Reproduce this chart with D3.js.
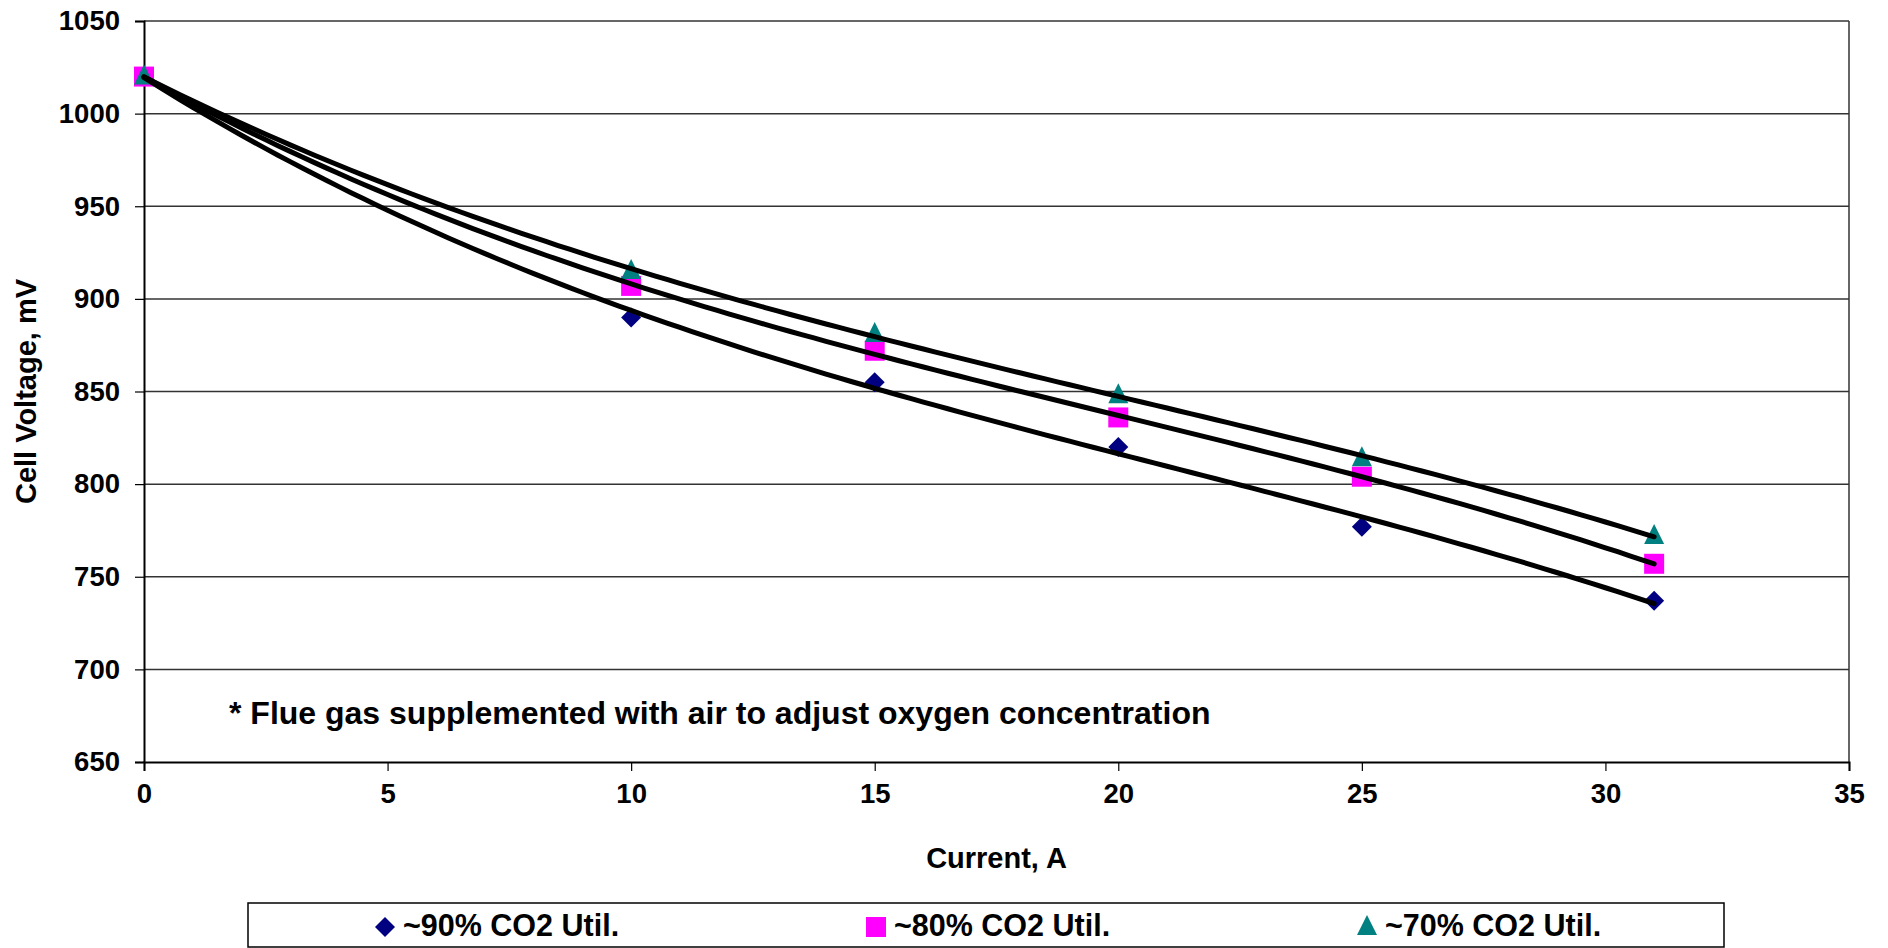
<!DOCTYPE html>
<meta charset="utf-8">
<script src="https://d3js.org/d3.v7.min.js"></script>
<style>
  body { margin: 0; background: #fff; }
  text { font-family: "Liberation Sans", Arial, sans-serif; font-weight: bold; fill: #000; }
</style>
<div id="chart"></div>
<script>
// data
var current = [0, 10, 15, 20, 25, 31];
var util90 = [1020, 890, 855, 820, 777, 737];
var util80 = [1020, 907, 872, 836, 804, 757];
var util70 = [1020, 915, 881, 848, 814, 772];
var seriesNames = ["~90% CO2 Util.", "~80% CO2 Util.", "~70% CO2 Util."];
var xTicks = [0, 5, 10, 15, 20, 25, 30, 35];
var yTicks = [650, 700, 750, 800, 850, 900, 950, 1000, 1050];

var width = 1888, height = 948;
var pL = 144, pR = 1849, pT = 21, pB = 762;

var svg = d3.select("#chart").append("svg").attr("width", width).attr("height", height);

var x = d3.scaleLinear().domain([0, 35]).range([pL, pR]);
var y = d3.scaleLinear().domain([650, 1050]).range([pB, pT]);

// gridlines
svg.append("g").selectAll("line").data(yTicks.slice(1)).enter().append("line")
  .attr("x1", pL).attr("x2", pR)
  .attr("y1", function(d){ return y(d) }).attr("y2", function(d){ return y(d) })
  .attr("stroke", "#333").attr("stroke-width", 1.5);
// right border
svg.append("line").attr("x1", pR).attr("x2", pR).attr("y1", pT).attr("y2", pB)
  .attr("stroke", "#333").attr("stroke-width", 1.5);

// axes
var yAxis = svg.append("g").attr("transform", "translate(" + pL + ",0)")
  .call(d3.axisLeft(y).tickValues(yTicks).tickSize(9).tickPadding(15).tickFormat(d3.format("d")));
var xAxis = svg.append("g").attr("transform", "translate(0," + pB + ")")
  .call(d3.axisBottom(x).tickValues(xTicks).tickSize(9).tickPadding(22));
[xAxis, yAxis].forEach(function(a){
  a.select(".domain").attr("stroke", "#000").attr("stroke-width", 2);
  a.selectAll(".tick line").attr("stroke", "#000").attr("stroke-width", 1.2);
  a.selectAll("text").style("font-size", "27.5px").style("font-family", null).attr("fill", "#000");
});
xAxis.selectAll("text").attr("dy", "0.35em");

// cubic least squares fit (trendline)
function polyFit(xs, ys, order) {
  var n = order + 1, A = [], i, j, k;
  for (i = 0; i < n; i++) {
    A.push([]);
    for (j = 0; j <= n; j++) A[i].push(0);
  }
  xs.forEach(function(xv, p){
    for (i = 0; i < n; i++) {
      for (j = 0; j < n; j++) A[i][j] += Math.pow(xv, i + j);
      A[i][n] += ys[p] * Math.pow(xv, i);
    }
  });
  for (i = 0; i < n; i++) {
    var piv = i;
    for (k = i + 1; k < n; k++) if (Math.abs(A[k][i]) > Math.abs(A[piv][i])) piv = k;
    var t = A[i]; A[i] = A[piv]; A[piv] = t;
    for (k = i + 1; k < n; k++) {
      var f = A[k][i] / A[i][i];
      for (j = i; j <= n; j++) A[k][j] -= f * A[i][j];
    }
  }
  var c = new Array(n);
  for (i = n - 1; i >= 0; i--) {
    var s = A[i][n];
    for (j = i + 1; j < n; j++) s -= A[i][j] * c[j];
    c[i] = s / A[i][i];
  }
  return function(xv){ return c.reduce(function(a, ci, ii){ return a + ci * Math.pow(xv, ii) }, 0) };
}

var series = [
  { name: seriesNames[0], values: util90, color: "#000080", shape: "diamond" },
  { name: seriesNames[1], values: util80, color: "#FF00FF", shape: "square" },
  { name: seriesNames[2], values: util70, color: "#008080", shape: "triangle" }
];

function shapePath(s) {
  if (s.shape === "diamond") return "M0,-10L10,0L0,10L-10,0Z";
  if (s.shape === "square") return "M-10,-10H10V10H-10Z";
  return "M0,-12L10,8L-10,8Z";
}

// markers
series.forEach(function(s){
  svg.append("g").selectAll("path").data(s.values).enter().append("path")
    .attr("d", shapePath(s))
    .attr("fill", s.color)
    .attr("transform", function(d, i){ return "translate(" + x(current[i]) + "," + y(d) + ")" });
});

// trendlines on top
var line = d3.line().x(function(d){ return x(d[0]) }).y(function(d){ return y(d[1]) });
series.forEach(function(s){
  var f = polyFit(current, s.values, 3);
  var pts = d3.range(0, 31.01, 0.25).map(function(v){ return [v, f(v)] });
  svg.append("path").datum(pts).attr("d", line)
    .attr("fill", "none").attr("stroke", "#000").attr("stroke-width", 5).attr("stroke-linecap", "round");
});

// note
svg.append("text").attr("x", 229).attr("y", 724).style("font-size", "32px")
  .text("* Flue gas supplemented with air to adjust oxygen concentration");

// axis titles
svg.append("text").attr("x", (pL + pR) / 2).attr("y", 868).attr("text-anchor", "middle")
  .style("font-size", "29px").text("Current, A");
svg.append("text").attr("transform", "translate(36," + ((pT + pB) / 2) + ") rotate(-90)")
  .attr("text-anchor", "middle").style("font-size", "29px").text("Cell Voltage, mV");

// legend
svg.append("rect").attr("x", 248).attr("y", 903).attr("width", 1476).attr("height", 44)
  .attr("fill", "#fff").attr("stroke", "#000").attr("stroke-width", 1.5);
var legendX = [385, 876, 1367];
series.forEach(function(s, i){
  svg.append("path").attr("d", shapePath(s)).attr("fill", s.color)
    .attr("transform", "translate(" + legendX[i] + ",927)");
  svg.append("text").attr("x", legendX[i] + 18).attr("y", 936).style("font-size", "30.5px").text(s.name);
});
</script>
